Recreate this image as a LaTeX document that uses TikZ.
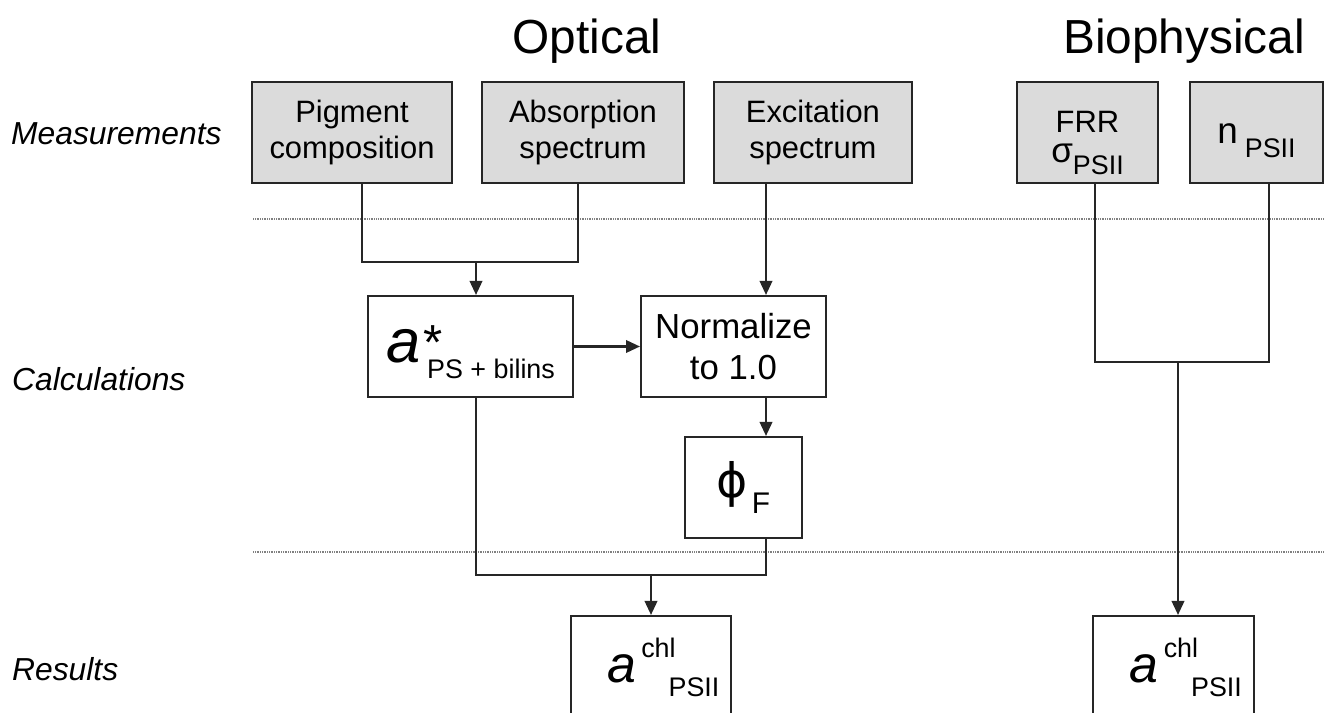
\documentclass[tikz,border=0pt]{standalone}
\usepackage{fontspec}
\setmainfont{Liberation Sans}
\newfontfamily\greekfont{DejaVu Sans}
\usetikzlibrary{arrows.meta}
\usetikzlibrary{positioning}
\tikzset{
    mstate/.style={
           rectangle,
           draw=black!85, line width=1.1pt,
           fill=black!14,
           minimum width=4cm,
           minimum height=2.02cm,
           inner sep=0pt,
           align=center,
           font=\fontsize{17.6}{21}\selectfont,
           },
    cstate/.style={
           rectangle,
           draw=black!85, line width=1.1pt,
           fill=white,
           minimum height=2.02cm,
           inner sep=0pt,
           align=center,
           },
    rowlabel/.style={anchor=base west, font=\fontsize{18.1}{20}\selectfont\itshape},
    colhead/.style={anchor=base, font=\fontsize{27.2}{30}\selectfont},
    link/.style={line width=1.5pt, draw=black!85},
    sepline/.style={draw=black!50, line width=1pt, dash pattern=on 0.5pt off 0.5pt},
}
\newcommand{\lowered}[2]{\raisebox{-#1}{\fontsize{15.3}{16}\selectfont #2}}
\newcommand{\achl}{\kern14pt{\fontsize{29.5}{30}\selectfont\itshape a}\kern3pt\raisebox{14.7pt}{\fontsize{15.3}{16}\selectfont chl}\kern-4pt\lowered{8pt}{PSII}}

\begin{document}
\begin{tikzpicture}[x=0.02cm,y=-0.02cm,>={Triangle[length=8pt,width=7pt]}]
    \useasboundingbox (0,0) rectangle (1325,713);
    \clip (0,0) rectangle (1325,713);

    % column headings and row labels
    \node[colhead] (OPT) at (587,54) {Optical};
    \node[colhead] (BIO) at (1184,54) {Biophysical};
    \node[rowlabel] (MEA) at (5,145) {Measurements};
    \node[rowlabel] (CAL) at (6,390) {Calculations};
    \node[rowlabel] (RES) at (6,680) {Results};

    % separators
    \draw[sepline] (253,219) -- (1325,219);
    \draw[sepline] (253,552) -- (1325,552);

    % measurements
    \node[mstate,anchor=center] (PIG) at (352,132.5) {Pigment\\composition};
    \node[mstate,anchor=center,minimum width=4.04cm,right of=PIG,node distance=4.62cm]
        (ABS) {Absorption\\spectrum};
    \node[mstate,anchor=center,minimum width=3.96cm,right of=ABS,node distance=4.6cm]
        (EXC) {Excitation\\spectrum};
    \node[mstate,anchor=center,minimum width=2.82cm,font=\fontsize{17.6}{17}\selectfont]
        (FRR) at (1087.5,132.5)
        {\rule{0pt}{24.5pt}FRR\\{\fontsize{20}{17}\selectfont σ}\lowered{7pt}{PSII}};
    \node[mstate,anchor=center,minimum width=2.66cm,text height=20pt,text depth=8pt,
        right of=FRR,node distance=3.38cm]
        (NPS) {{\fontsize{21}{21}\selectfont n}\kern4pt\lowered{8pt}{PSII}};

    % calculations
    \node[cstate,anchor=center,minimum width=4.1cm,text height=25pt,text depth=6.3pt]
        (AST) at (470.5,346.5)
        {{\fontsize{35}{35}\selectfont\itshape a}\kern2pt\raisebox{2pt}{\fontsize{28}{28}\selectfont *}\kern-9pt\lowered{9pt}{PS + bilins}};
    \node[cstate,anchor=center,minimum width=3.7cm,font=\fontsize{19.8}{23}\selectfont]
        (NOR) at (733.5,346.5) {Normalize\\to 1.0};
    \node[cstate,anchor=center,minimum width=2.34cm] (PHI) at (743.5,487.5)
        {{\greekfont\fontsize{27}{27}\selectfont ϕ}\kern2pt\raisebox{-9.5pt}{\fontsize{17}{17}\selectfont F}};

    % results
    \node[cstate,anchor=center,minimum width=3.2cm,minimum height=2.16cm,
        text height=30pt,text depth=15.3pt] (ROP) at (651,670) {\achl};
    \node[cstate,anchor=center,minimum width=3.22cm,minimum height=2.16cm,
        text height=30pt,text depth=15.3pt] (RBI) at (1173.5,670) {\achl};

    % junction points
    \coordinate (JA) at (362,262);
    \coordinate (JB) at (578,262);
    \coordinate (JAB) at (476,262);
    \coordinate (COL) at (766,0);
    \coordinate (JC) at (476,575);
    \coordinate (JD) at (766,575);
    \coordinate (JCD) at (651,575);
    \coordinate (JE) at (1095,362);
    \coordinate (JF) at (1269,362);
    \coordinate (JEF) at (1178,362);

    % optical branch
    \draw[link] (PIG.south -| JA) -- (JA) -- (JB) -- (ABS.south -| JB);
    \draw[link,->] (JAB) -- (AST.north -| JAB);
    \draw[link,->] (AST.east) -- (NOR.west);
    \draw[link,->] (EXC.south -| COL) -- (NOR.north -| COL);
    \draw[link,->] (NOR.south -| COL) -- (PHI.north -| COL);
    \draw[link] (AST.south -| JC) -- (JC) -- (JD) -- (PHI.south -| JD);
    \draw[link,->] (JCD) -- (ROP.north);

    % biophysical branch
    \draw[link] (FRR.south -| JE) -- (JE) -- (JF) -- (NPS.south -| JF);
    \draw[link,->] (JEF) -- (RBI.north -| JEF);

\end{tikzpicture}
\end{document}
